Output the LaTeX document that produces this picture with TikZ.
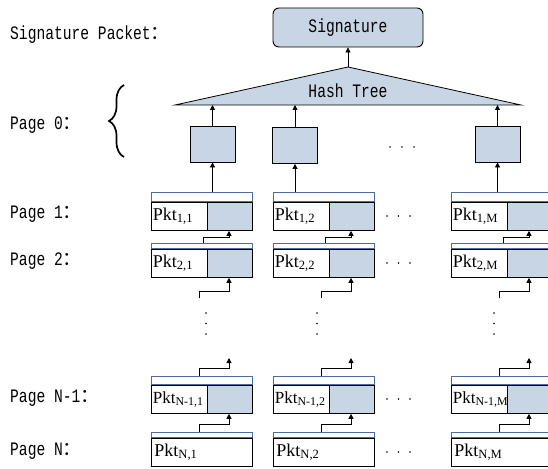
\documentclass[tikz,border=0pt]{standalone}
\usepackage{fontspec}
\usepackage{tikz}
\usetikzlibrary{positioning, arrows.meta, decorations.pathreplacing}
\newfontfamily\labfont[FakeStretch=0.77]{Liberation Mono}
\newfontfamily\pktfont{Liberation Serif}
\newfontfamily\cjk{Noto Sans CJK SC}
\newcommand{\fcolon}{{\cjk ：}}
\definecolor{SigFill}{RGB}{200,213,228}
\definecolor{HdrBlue}{RGB}{75,108,160}

\begin{document}
\begin{tikzpicture}[x=1pt, y=-1pt,
    lab/.style={font=\labfont\fontsize{19}{19}\selectfont, anchor=west, inner sep=0pt},
    sigbox/.style={draw, fill=SigFill, rounded corners=6pt, line width=0.9pt,
                   minimum width=150pt, minimum height=39pt,
                   font=\labfont\fontsize{19}{19}\selectfont},
    leaf/.style={draw, fill=SigFill, line width=0.8pt, minimum width=45pt,
                 minimum height=36pt, inner sep=0pt},
    hdr/.style={draw=HdrBlue, line width=0.8pt, minimum width=101pt,
                minimum height=#1, inner sep=0pt, anchor=south west},
    pktl/.style={draw, fill=white, line width=0.8pt, minimum height=28pt,
                 text width=53pt, inner xsep=1.5pt, inner ysep=0pt, align=left,
                 anchor=north west, font=\pktfont\fontsize{18}{18}\selectfont},
    pktw/.style={pktl, text width=95pt, inner xsep=3pt},
    pktr/.style={draw, fill=SigFill, line width=0.8pt, minimum width=45pt,
                 minimum height=28pt, inner sep=0pt, anchor=north west},
    arr/.style={-{Triangle[length=5pt, width=5pt]}, line width=0.8pt}
  ]
  \useasboundingbox (0,0) rectangle (548,468);

  % signature and hash tree
  \node[lab] (sigp) at (10,35) {Signature Packet\fcolon};
  \node[sigbox] (sig) at (348,27.5) {Signature};
  \coordinate (apex) at (348,67);
  \coordinate (tl) at (175,105);
  \coordinate (tr) at (521,105);
  \filldraw[fill=SigFill, line width=0.8pt] (tl) -- (apex) -- (tr) -- cycle;
  \node[font=\labfont\fontsize{19}{19}\selectfont] (hash) at (348,91) {Hash Tree};
  \draw[arr] (apex) -- (sig.south);

  % page 0
  \node[lab] (pg0) at (10,125) {Page 0\fcolon};
  \coordinate (brb) at (124,157);
  \coordinate (brt) at (124,85);
  \draw[decorate, decoration={brace, amplitude=15pt}, line width=1.7pt] (brb) -- (brt);
  \node[leaf] (leaf1) at (212.5,144) {};
  \node[leaf] (leaf2) at (295,145.5) {};
  \node[leaf] (leaf3) at (497.5,144) {};
  \foreach \xx in {390,402,414} \fill (\xx,147) circle (0.9pt);

  % page labels
  \node[lab] (pg1) at (10,214) {Page 1\fcolon};
  \node[lab] (pg2) at (10,261) {Page 2\fcolon};
  \node[lab] (pgy) at (10,398) {Page N-1\fcolon};
  \node[lab] (pgz) at (10,451) {Page N\fcolon};
  \foreach \yy in {216,263,399,452}
    \foreach \xx in {387,398.5,410} \fill (\xx,\yy) circle (0.9pt);

  \foreach \c/\x/\s/\d in {1/151/1/55, 2/273/2/44, 3/451/M/43}{
    % page 1 and page 2
    \node[hdr=9pt] (ha\c) at (\x,202) {};
    \node[pktl] (pa\c) at (\x,202) {Pkt\textsubscript{1,\s}};
    \node[pktr] (qa\c) at (\x+56,202) {};
    \node[hdr=5pt] (hb\c) at (\x,249) {};
    \node[pktl] (pb\c) at (\x,249) {Pkt\textsubscript{2,\s}};
    \node[pktr] (qb\c) at (\x+56,249) {};
    % page N-1 and page N
    \node[hdr=8pt] (hy\c) at (\x,385) {};
    \node[pktl, font=\pktfont\fontsize{17}{17}\selectfont] (py\c) at (\x,385)
         {Pkt\textsubscript{N-1,\s}};
    \node[pktr] (qy\c) at (\x+56,385) {};
    \node[hdr=5pt] (hz\c) at (\x,438) {};
    \node[pktw] (pz\c) at (\x,438) {Pkt\textsubscript{N,\s}};
    % up into the tree
    \draw[arr] (ha\c.north -| leaf\c) -- (leaf\c.south);
    \draw[arr] (leaf\c.north) -- (leaf\c.north |- tl);
    % hash chain
    \draw[arr] ([xshift=52pt]hb\c.north west) -- ++(0,-6) -| ([xshift=22pt]qa\c.south west);
    \coordinate (lo\c) at (\x+48,298);
    \draw[arr] (lo\c) -- ++(0,-7) -| ([xshift=22pt]qb\c.south west);
    \coordinate (up\c) at (\x+78,358);
    \draw[arr] ([xshift=48pt]hy\c.north west) -- ++(0,-8) -| (up\c);
    \draw[arr] ([xshift=48pt]hz\c.north west) -- ++(0,-8) -| ([xshift=22pt]qy\c.south west);
    \foreach \yy in {313,323.5,334} \fill (\x+\d,\yy) circle (0.9pt);
  }
\end{tikzpicture}
\end{document}
